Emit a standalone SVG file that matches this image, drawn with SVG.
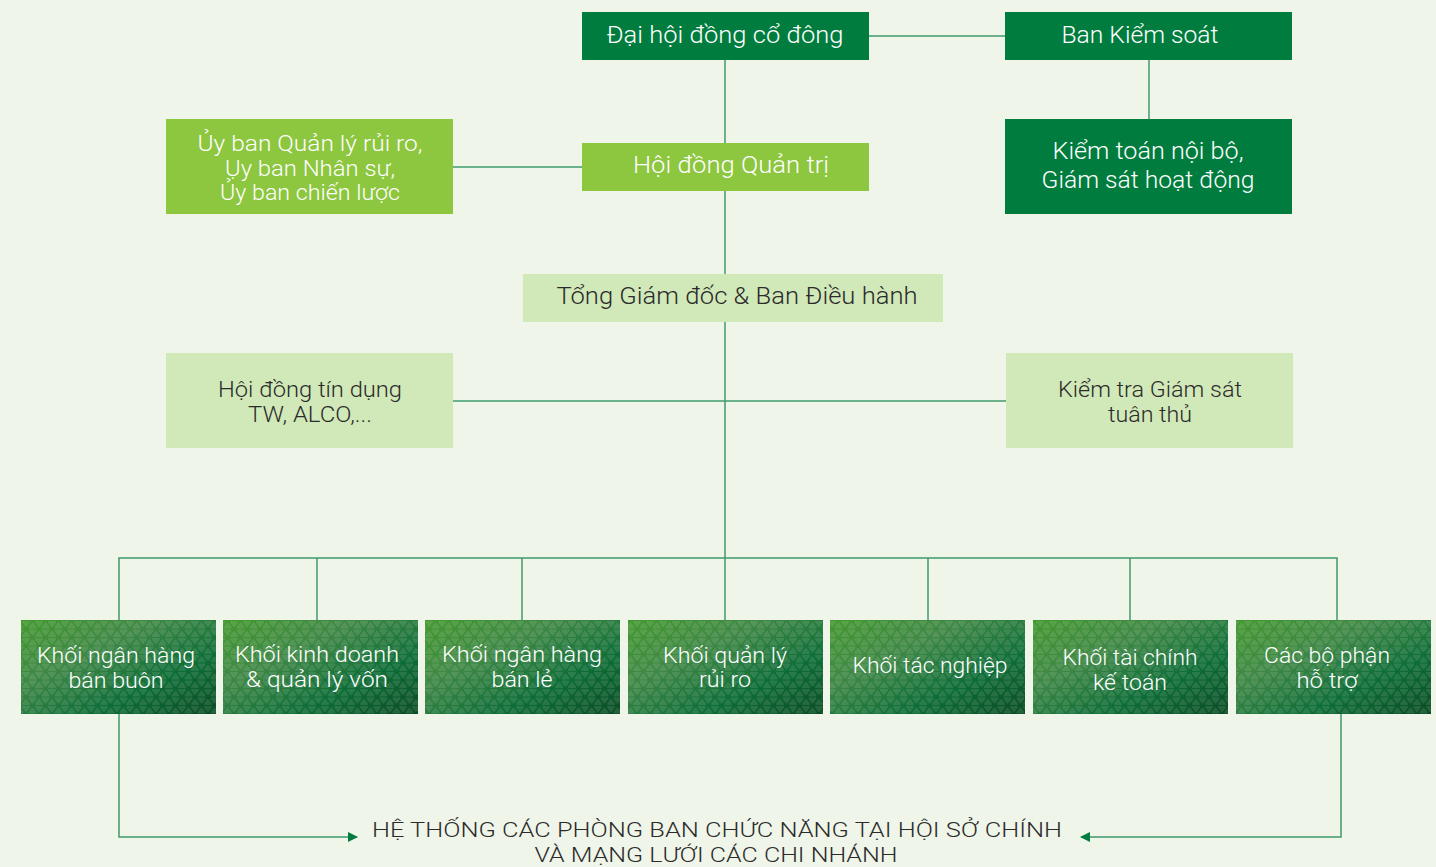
<svg xmlns="http://www.w3.org/2000/svg" width="1436" height="867" viewBox="0 0 1436 867">
<defs>
<style>
text{font-family:Roboto,"Liberation Sans","DejaVu Sans",sans-serif;font-weight:300;text-anchor:middle}
.w{fill:#ffffff;font-size:23px}
.w2{fill:#ffffff;font-size:22px}
.d{fill:#2b2b2b;font-size:23px}
.d2{fill:#2b2b2b;font-size:22px}
.b{fill:#ffffff;font-size:22px}
.f{fill:#2b2b2b;font-size:21px}
.dark{fill:#007d3e}
.lime{fill:#8dc63f}
.pale{fill:#d1e8b8}
.c{stroke:#3f9a6c;stroke-width:1.5;fill:none}
.pat{fill:url(#tri)}
.grad{fill:url(#g)}
</style>
<linearGradient id="g" x1="0" y1="0" x2="1" y2="1">
<stop offset="0" stop-color="#5cb83a"/>
<stop offset="0.35" stop-color="#55a05a"/>
<stop offset="0.68" stop-color="#0f7a44"/>
<stop offset="1" stop-color="#094a28"/>
</linearGradient>
<path id="dn" d="M3.25,1.42 L9.75,1.42 L6.5,5.67 Z"/>
<path id="up" d="M13,2.83 L16.25,7.08 L9.75,7.08 Z"/>
<pattern id="tri" width="13" height="17" patternUnits="userSpaceOnUse">
<rect width="13" height="17" fill="#0a5018" fill-opacity="0.3"/>
<g fill="#ffffff" stroke="#ffffff" stroke-width="1.6" stroke-linejoin="round" opacity="0.11">
<use href="#dn"/>
<use href="#up"/>
<use href="#up" x="-13"/>
<use href="#dn" x="6.5" y="8.5"/>
<use href="#dn" x="-6.5" y="8.5"/>
<use href="#up" x="-6.5" y="8.5"/>
</g>
</pattern>
<marker id="ah" viewBox="0 0 10 10" refX="9" refY="5" markerWidth="10" markerHeight="10" markerUnits="userSpaceOnUse" orient="auto">
<path d="M0,0 L10,5 L0,10 Z" fill="#007d3e"/>
</marker>
</defs>
<rect width="1436" height="867" fill="#eff5e8"/>

<g id="connectors">
<line class="c" x1="725" y1="60" x2="725" y2="558"/>
<line class="c" x1="868" y1="36" x2="1005" y2="36"/>
<line class="c" x1="1149" y1="60" x2="1149" y2="119"/>
<line class="c" x1="452" y1="167" x2="582" y2="167"/>
<line class="c" x1="452" y1="401" x2="1006" y2="401"/>
<polyline class="c" points="119,620 119,558 1337,558 1337,620"/>
<line class="c" x1="317" y1="558" x2="317" y2="620"/>
<line class="c" x1="522" y1="558" x2="522" y2="620"/>
<line class="c" x1="725" y1="558" x2="725" y2="620"/>
<line class="c" x1="928" y1="558" x2="928" y2="620"/>
<line class="c" x1="1130" y1="558" x2="1130" y2="620"/>
<polyline class="c" points="119,714 119,837 357,837" marker-end="url(#ah)"/>
<polyline class="c" points="1341,714 1341,837 1081,837" marker-end="url(#ah)"/>
</g>

<g id="dhdcd"><rect class="dark" x="582" y="12" width="287" height="48"/>
<text class="w" x="725" y="43" textLength="237" lengthAdjust="spacingAndGlyphs">Đại hội đồng cổ đông</text></g>

<g id="bks"><rect class="dark" x="1005" y="12" width="287" height="48"/>
<text class="w" x="1140" y="43" textLength="157" lengthAdjust="spacingAndGlyphs">Ban Kiểm soát</text></g>

<g id="ktnb"><rect class="dark" x="1005" y="119" width="287" height="95"/>
<text class="w" x="1148" y="159" textLength="191" lengthAdjust="spacingAndGlyphs">Kiểm toán nội bộ,</text>
<text class="w" x="1148" y="188" textLength="213" lengthAdjust="spacingAndGlyphs">Giám sát hoạt động</text></g>

<g id="hdqt"><rect class="lime" x="582" y="143" width="287" height="48"/>
<text class="w" x="731" y="173" textLength="196" lengthAdjust="spacingAndGlyphs">Hội đồng Quản trị</text></g>

<g id="uyban"><rect class="lime" x="166" y="119" width="287" height="95"/>
<text class="w2" x="310" y="151" textLength="225" lengthAdjust="spacingAndGlyphs">Ủy ban Quản lý rủi ro,</text>
<text class="w2" x="310" y="176" textLength="170" lengthAdjust="spacingAndGlyphs">Ụy ban Nhân sự,</text>
<text class="w2" x="310" y="200" textLength="180" lengthAdjust="spacingAndGlyphs">Ủy ban chiến lược</text></g>

<g id="tgd"><rect class="pale" x="523" y="274" width="420" height="48"/>
<text class="d" x="737" y="304" textLength="361" lengthAdjust="spacingAndGlyphs">Tổng Giám đốc &amp; Ban Điều hành</text></g>

<g id="hdtd"><rect class="pale" x="166" y="353" width="287" height="95"/>
<text class="d2" x="310" y="397" textLength="184" lengthAdjust="spacingAndGlyphs">Hội đồng tín dụng</text>
<text class="d2" x="310" y="422" textLength="124" lengthAdjust="spacingAndGlyphs">TW, ALCO,...</text></g>

<g id="ktgs"><rect class="pale" x="1006" y="353" width="287" height="95"/>
<text class="d2" x="1150" y="397" textLength="184" lengthAdjust="spacingAndGlyphs">Kiểm tra Giám sát</text>
<text class="d2" x="1150" y="422" textLength="84" lengthAdjust="spacingAndGlyphs">tuân thủ</text></g>

<g id="k1"><rect class="grad" x="21" y="620" width="195" height="94"/><rect class="pat" x="21" y="620" width="195" height="94"/>
<text class="b" x="116" y="663" textLength="158" lengthAdjust="spacingAndGlyphs">Khối ngân hàng</text>
<text class="b" x="116" y="688" textLength="95" lengthAdjust="spacingAndGlyphs">bán buôn</text></g>

<g id="k2"><rect class="grad" x="223" y="620" width="195" height="94"/><rect class="pat" x="223" y="620" width="195" height="94"/>
<text class="b" x="317" y="662" textLength="164" lengthAdjust="spacingAndGlyphs">Khối kinh doanh</text>
<text class="b" x="317" y="687" textLength="142" lengthAdjust="spacingAndGlyphs">&amp; quản lý vốn</text></g>

<g id="k3"><rect class="grad" x="425" y="620" width="195" height="94"/><rect class="pat" x="425" y="620" width="195" height="94"/>
<text class="b" x="522" y="662" textLength="160" lengthAdjust="spacingAndGlyphs">Khối ngân hàng</text>
<text class="b" x="522" y="687" textLength="61" lengthAdjust="spacingAndGlyphs">bán lẻ</text></g>

<g id="k4"><rect class="grad" x="628" y="620" width="195" height="94"/><rect class="pat" x="628" y="620" width="195" height="94"/>
<text class="b" x="725" y="663" textLength="124" lengthAdjust="spacingAndGlyphs">Khối quản lý</text>
<text class="b" x="725" y="687" textLength="52" lengthAdjust="spacingAndGlyphs">rủi ro</text></g>

<g id="k5"><rect class="grad" x="830" y="620" width="195" height="94"/><rect class="pat" x="830" y="620" width="195" height="94"/>
<text class="b" x="930" y="673" textLength="155" lengthAdjust="spacingAndGlyphs">Khối tác nghiệp</text></g>

<g id="k6"><rect class="grad" x="1033" y="620" width="195" height="94"/><rect class="pat" x="1033" y="620" width="195" height="94"/>
<text class="b" x="1130" y="665" textLength="135" lengthAdjust="spacingAndGlyphs">Khối tài chính</text>
<text class="b" x="1130" y="690" textLength="74" lengthAdjust="spacingAndGlyphs">kế toán</text></g>

<g id="k7"><rect class="grad" x="1236" y="620" width="195" height="94"/><rect class="pat" x="1236" y="620" width="195" height="94"/>
<text class="b" x="1327" y="663" textLength="126" lengthAdjust="spacingAndGlyphs">Các bộ phận</text>
<text class="b" x="1327" y="688" textLength="61" lengthAdjust="spacingAndGlyphs">hỗ trợ</text></g>

<g id="heThong">
<text class="f" x="717" y="837" textLength="690" lengthAdjust="spacingAndGlyphs">HỆ THỐNG CÁC PHÒNG BAN CHỨC NĂNG TẠI HỘI SỞ CHÍNH</text>
<text class="f" x="716" y="862" textLength="363" lengthAdjust="spacingAndGlyphs">VÀ MẠNG LƯỚI CÁC CHI NHÁNH</text>
</g>
</svg>
